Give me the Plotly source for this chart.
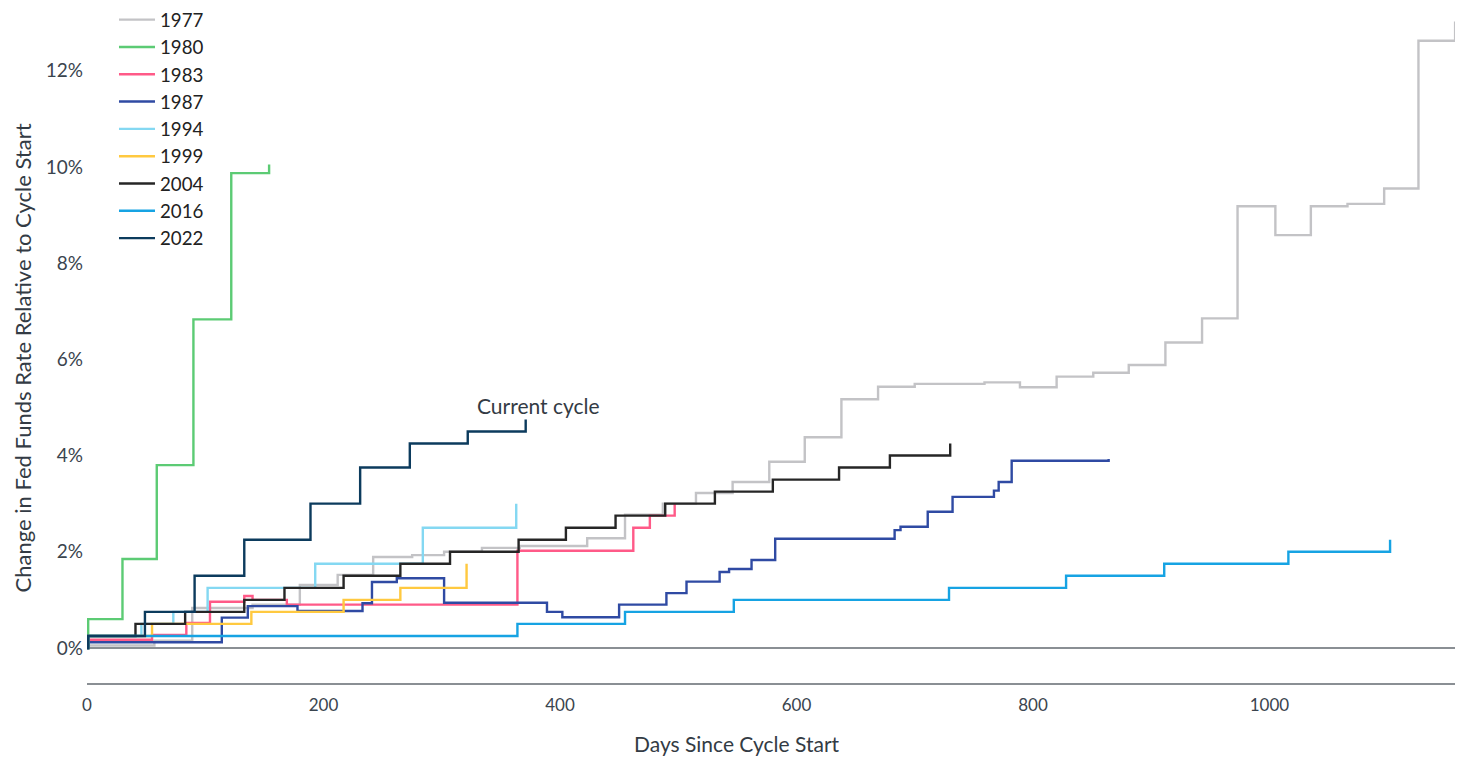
import plotly.graph_objects as go

# ---- data (days since cycle start, cumulative change in %) ----
days_1977 = [0, 1, 57, 89, 140, 180, 212, 242, 275, 302, 334, 366, 423, 455, 487, 515, 546, 577, 607, 638, 669, 700, 759, 789, 820, 851, 881, 912, 943, 973, 1005, 1035, 1066, 1097, 1126, 1157]
vals_1977 = [0, 0.05, 0.15, 0.83, 0.9, 1.31, 1.52, 1.89, 1.93, 2.0, 2.08, 2.12, 2.28, 2.77, 3.0, 3.22, 3.45, 3.87, 4.38, 5.17, 5.43, 5.49, 5.52, 5.42, 5.64, 5.72, 5.88, 6.35, 6.85, 9.18, 8.58, 9.18, 9.23, 9.55, 12.62, 13.02]

days_1980 = [0, 1, 30, 59, 90, 122, 154]
vals_1980 = [0, 0.6, 1.85, 3.8, 6.83, 9.87, 10.05]

days_1983 = [0, 1, 55, 84, 104, 133, 140, 169, 364, 462, 476, 497]
vals_1983 = [0, 0.17, 0.27, 0.52, 0.96, 1.08, 1.0, 0.9, 2.02, 2.5, 2.75, 3.0]

days_1987 = [0, 1, 114, 136, 178, 233, 241, 262, 302, 389, 402, 450, 490, 507, 535, 543, 562, 582, 683, 688, 711, 732, 767, 771, 782, 864]
vals_1987 = [0, 0.12, 0.63, 0.87, 0.77, 0.93, 1.37, 1.45, 0.94, 0.75, 0.64, 0.9, 1.14, 1.38, 1.58, 1.64, 1.83, 2.27, 2.45, 2.52, 2.83, 3.14, 3.27, 3.45, 3.89, 3.93]

days_1994 = [0, 1, 46, 73, 102, 193, 284, 363]
vals_1994 = [0, 0.25, 0.5, 0.75, 1.25, 1.75, 2.5, 3.0]

days_1999 = [0, 1, 55, 139, 217, 265, 321]
vals_1999 = [0, 0.25, 0.5, 0.75, 1.0, 1.25, 1.75]

days_2004 = [0, 1, 41, 83, 133, 167, 217, 265, 307, 365, 405, 447, 489, 531, 580, 636, 679, 730]
vals_2004 = [0, 0.25, 0.5, 0.75, 1.0, 1.25, 1.5, 1.75, 2.0, 2.25, 2.5, 2.75, 3.0, 3.25, 3.5, 3.75, 4.0, 4.25]

days_2016 = [0, 1, 364, 455, 547, 729, 828, 911, 1016, 1102]
vals_2016 = [0, 0.25, 0.5, 0.75, 1.0, 1.25, 1.5, 1.75, 2.0, 2.25]

days_2022 = [0, 1, 49, 91, 133, 189, 231, 273, 322, 371]
vals_2022 = [0, 0.25, 0.75, 1.5, 2.25, 3.0, 3.75, 4.25, 4.5, 4.75]

series_names = ["1977", "1980", "1983", "1987", "1994", "1999", "2004", "2016", "2022"]
series_days = [days_1977, days_1980, days_1983, days_1987, days_1994, days_1999, days_2004, days_2016, days_2022]
series_vals = [vals_1977, vals_1980, vals_1983, vals_1987, vals_1994, vals_1999, vals_2004, vals_2016, vals_2022]
series_colors = ["#c3c3c6", "#5ccb74", "#ff5a88", "#2f4aa3", "#84d8f2", "#ffc940", "#262626", "#16a3e3", "#0c3b5d"]

x_ticks = [0, 200, 400, 600, 800, 1000]
y_ticks = [0, 2, 4, 6, 8, 10, 12]

FONT = "Lato, 'Noto Sans', sans-serif"
TXT = "#333b44"

fig = go.Figure()
for name, d, v, c in zip(series_names, series_days, series_vals, series_colors):
    fig.add_trace(go.Scatter(
        x=d, y=v, mode="lines", name=name, line=dict(color=c, width=2.4, shape="hv"),
        legendgroup=name,
    ))

fig.add_annotation(x=382, y=5.03, xref="x", yref="y", text="Current cycle", showarrow=False,
                   font=dict(family=FONT, size=21, color=TXT))
fig.add_annotation(x=0.4745, y=-0.0906, xref="paper", yref="paper", text="Days Since Cycle Start",
                   showarrow=False, yanchor="middle", xanchor="center",
                   font=dict(family=FONT, size=21, color=TXT))
fig.add_annotation(x=-0.0471, y=0.483, xref="paper", yref="paper",
                   text="Change in Fed Funds Rate Relative to Cycle Start",
                   showarrow=False, textangle=-90, xanchor="center", yanchor="middle",
                   font=dict(family=FONT, size=22, color=TXT))

fig.update_layout(
    width=1455, height=749,
    margin=dict(l=79, r=6, t=2, b=74, autoexpand=False),
    paper_bgcolor="white", plot_bgcolor="white",
    font=dict(family=FONT, size=17, color="#3a444e"),
    showlegend=True,
    legend=dict(x=0.0197, y=1.0134, xanchor="left", yanchor="top", bgcolor="rgba(0,0,0,0)",
                font=dict(family=FONT, size=18.7, color="#222"), tracegroupgap=5,
                itemwidth=36, traceorder="normal"),
    xaxis=dict(range=[0, 1158.6], tickvals=x_ticks, ticktext=[str(t) for t in x_ticks],
               showgrid=False, zeroline=False, showline=True, linecolor="#8a8f94", linewidth=2,
               ticks="", ticklabelstandoff=6, tickfont=dict(family=FONT, size=17, color="#3a444e")),
    yaxis=dict(range=[-0.728, 13.26], tickvals=y_ticks, ticktext=[f"{t}%" for t in y_ticks],
               showgrid=False, zeroline=True, zerolinecolor="#8a8f94", zerolinewidth=2,
               showline=False, ticks="", ticklabelstandoff=3,
               tickfont=dict(family=FONT, size=19, color="#3a444e")),
)

fig.write_html("out.html")
